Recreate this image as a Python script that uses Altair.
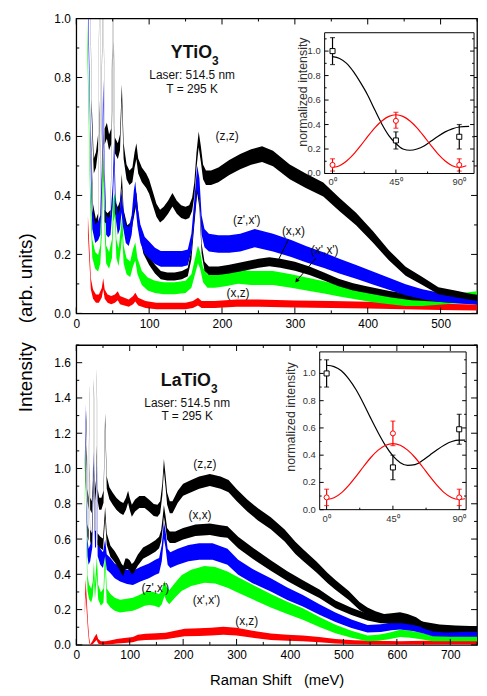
import altair as alt
import numpy as np
import pandas as pd

FONT = "Liberation Sans"
W, H1, H2 = 405, 298, 303

# ---------------- YTiO3 spectra: (Raman shift [meV], intensity) ----------------
yt_zz = [(18,1.4),(21,0.7),(24,0.5),(27,0.52),(30,0.58),(32,1.2),(34,0.6),(37,1.2),(39,0.6),(42,0.62),(45,0.58),(48,0.6),(50.5,1.2),(53,0.57),(57,0.55),(60,0.58),(62.5,0.75),(65,0.55),(69,0.48),(73,0.46),(77,0.47),(80,0.52),(82.5,0.55),(85,0.5),(90,0.47),(96,0.45),(100,0.43),(105,0.39),(110,0.35),(115,0.33),(120,0.34),(126,0.36),(132,0.385),(138,0.36),(144,0.345),(150,0.34),(155,0.345),(159,0.37),(162,0.42),(165,0.52),(168,0.59),(171,0.54),(174,0.48),(178,0.46),(185,0.46),(195,0.47),(210,0.495),(225,0.515),(240,0.53),(255,0.54),(270,0.525),(293,0.48),(315,0.45),(339,0.42),(361,0.37),(384,0.32),(407,0.26),(429,0.197),(452,0.143),(475,0.11),(497,0.077),(520,0.066),(543,0.055),(550,0.053)]
yt_xx = [(20,0.6),(23,0.35),(27,0.3),(30,0.32),(32,0.7),(34,0.32),(37,0.6),(39,0.33),(43,0.32),(47,0.33),(50.5,0.9),(53,0.36),(57,0.34),(60,0.36),(62.5,0.45),(65,0.33),(70,0.28),(75,0.29),(80,0.36),(82.5,0.39),(86,0.3),(92,0.22),(100,0.18),(108,0.15),(116,0.13),(125,0.125),(135,0.125),(145,0.13),(153,0.14),(158,0.2),(162,0.32),(166,0.43),(169,0.38),(172,0.22),(176,0.16),(182,0.145),(195,0.145),(210,0.15),(230,0.16),(250,0.17),(265,0.175),(280,0.17),(300,0.16),(320,0.145),(340,0.125),(360,0.105),(380,0.09),(400,0.08),(430,0.065),(460,0.055),(490,0.05),(520,0.045),(550,0.04)]
yt_zx = [(16,1.05),(18,0.8),(20,0.5),(22,0.32),(26,0.27),(30,0.28),(33,0.3),(35,0.45),(37,0.75),(39,0.45),(41,0.3),(44,0.29),(47,0.3),(50,0.4),(52,0.55),(54,0.36),(57,0.3),(60,0.32),(62,0.38),(64,0.33),(68,0.27),(72,0.26),(76,0.3),(79,0.38),(81,0.41),(84,0.33),(88,0.27),(94,0.23),(100,0.215),(108,0.195),(116,0.185),(125,0.185),(135,0.185),(145,0.185),(153,0.19),(158,0.24),(162,0.35),(166,0.46),(169,0.42),(172,0.3),(176,0.255),(182,0.24),(195,0.235),(210,0.235),(225,0.24),(245,0.255),(270,0.24),(295,0.22),(316,0.2),(340,0.18),(361,0.16),(385,0.14),(407,0.12),(430,0.1),(452,0.08),(475,0.065),(497,0.055),(520,0.05),(550,0.045)]
yt_xpxp = [(15,0.95),(17,0.7),(19,0.42),(22,0.22),(26,0.18),(30,0.17),(33,0.2),(35,0.3),(37,0.5),(39,0.3),(41,0.2),(45,0.18),(49,0.22),(51,0.35),(53,0.37),(55,0.22),(58,0.19),(61,0.25),(63,0.3),(65,0.2),(69,0.16),(74,0.15),(78,0.19),(81,0.21),(84,0.16),(90,0.12),(98,0.1),(108,0.09),(120,0.085),(135,0.085),(150,0.09),(158,0.11),(163,0.16),(167,0.2),(170,0.18),(174,0.13),(180,0.11),(190,0.11),(205,0.115),(222,0.125),(240,0.12),(270,0.12),(295,0.11),(316,0.1),(340,0.088),(361,0.077),(385,0.065),(407,0.055),(430,0.047),(452,0.04),(475,0.04),(497,0.045),(520,0.05),(550,0.058)]
yt_xz = [(16,0.3),(18,0.2),(20,0.1),(23,0.065),(27,0.05),(31,0.05),(35,0.07),(37,0.1),(39,0.065),(43,0.05),(48,0.045),(53,0.05),(57,0.06),(60,0.045),(66,0.04),(72,0.035),(78,0.045),(81,0.055),(85,0.04),(95,0.03),(110,0.025),(130,0.025),(150,0.025),(160,0.03),(167,0.04),(172,0.03),(190,0.03),(220,0.035),(250,0.035),(300,0.032),(350,0.03),(400,0.028),(450,0.025),(500,0.022),(550,0.02)]

# ---------------- LaTiO3 spectra ----------------
la_zz = [(17,1.0),(19,1.3),(21,0.85),(23,0.8),(24.5,1.45),(26,0.8),(29,0.78),(31,0.9),(33,1.48),(35,0.85),(37,0.9),(38.5,1.54),(40,0.85),(43,0.8),(47,0.8),(51,0.84),(54,1.28),(57,0.92),(62,0.86),(68,0.83),(75,0.8),(82,0.78),(88,0.77),(93,0.8),(97,0.84),(100,0.8),(104,0.76),(110,0.79),(118,0.81),(128,0.81),(136,0.79),(145,0.765),(152,0.76),(157,0.78),(161,0.88),(164,1.02),(167,0.93),(170,0.83),(175,0.78),(180,0.78),(190,0.84),(200,0.88),(215,0.9),(230,0.92),(250,0.935),(270,0.92),(285,0.9),(300,0.85),(320,0.79),(340,0.74),(364,0.69),(390,0.62),(410,0.55),(424,0.51),(450,0.44),(470,0.38),(485,0.34),(510,0.28),(530,0.22),(545,0.19),(560,0.17),(576,0.155),(590,0.16),(606,0.165),(620,0.155),(636,0.138),(650,0.11),(667,0.092),(690,0.085),(710,0.087),(730,0.09),(750,0.09)]
la_xx = [(17,0.9),(19,1.1),(21,0.65),(23,0.62),(24.5,1.0),(26,0.62),(29,0.6),(33,1.0),(35,0.62),(38.5,1.1),(40,0.6),(45,0.58),(50,0.57),(54,0.75),(57,0.6),(64,0.53),(72,0.5),(80,0.46),(85,0.43),(88,0.42),(92,0.46),(96,0.46),(100,0.45),(104,0.43),(108,0.44),(115,0.48),(125,0.52),(137,0.54),(148,0.56),(155,0.58),(159,0.62),(162,0.7),(164,0.76),(167,0.7),(170,0.63),(175,0.61),(185,0.61),(200,0.63),(223,0.65),(250,0.655),(270,0.645),(283,0.64),(303,0.58),(330,0.52),(364,0.45),(395,0.39),(424,0.34),(455,0.29),(485,0.23),(515,0.19),(545,0.157),(570,0.14),(590,0.14),(610,0.14),(630,0.13),(650,0.115),(680,0.1),(710,0.095),(750,0.09)]
la_zx = [(16,1.0),(17.5,1.32),(19,0.8),(21,0.55),(23,0.5),(26,0.52),(30,0.6),(33,1.05),(35,0.6),(37,0.6),(38.5,1.0),(40,0.55),(45,0.5),(50,0.48),(54,0.55),(57,0.47),(64,0.45),(72,0.42),(82,0.4),(95,0.385),(106,0.38),(120,0.4),(136,0.42),(148,0.44),(155,0.45),(160,0.52),(164,0.65),(167,0.6),(171,0.5),(176,0.48),(190,0.5),(210,0.52),(230,0.53),(255,0.53),(283,0.5),(303,0.44),(330,0.39),(364,0.34),(395,0.29),(424,0.25),(455,0.2),(485,0.157),(515,0.12),(545,0.092),(570,0.095),(590,0.105),(606,0.11),(630,0.1),(650,0.085),(667,0.068),(700,0.065),(730,0.065),(750,0.065)]
la_xpxp = [(16,0.8),(17.5,1.08),(19,0.6),(21,0.35),(24,0.3),(28,0.28),(31,0.32),(33,0.42),(35,0.3),(38.5,0.45),(41,0.3),(46,0.26),(51,0.28),(54,0.5),(57,0.28),(64,0.25),(72,0.23),(82,0.22),(95,0.225),(106,0.23),(118,0.245),(128,0.26),(137,0.265),(146,0.26),(155,0.25),(160,0.27),(165,0.32),(169,0.29),(174,0.27),(185,0.31),(197,0.35),(215,0.38),(240,0.4),(260,0.395),(283,0.37),(303,0.34),(330,0.3),(364,0.25),(395,0.21),(424,0.175),(455,0.13),(485,0.09),(515,0.06),(545,0.037),(565,0.04),(585,0.05),(606,0.065),(625,0.06),(645,0.05),(667,0.037),(700,0.037),(750,0.037)]
la_xz = [(16,0.2),(17.5,0.33),(20,0.2),(22,0.1),(24,0.03),(26,0.0),(30,0.01),(34,0.03),(38,0.045),(41,0.02),(46,0.01),(55,0.01),(65,0.015),(76,0.02),(90,0.025),(106,0.03),(115,0.04),(130,0.045),(150,0.048),(167,0.05),(185,0.06),(203,0.07),(230,0.072),(252,0.075),(275,0.08),(300,0.075),(330,0.06),(364,0.046),(395,0.04),(424,0.037),(455,0.03),(485,0.02),(520,0.015),(560,0.012),(606,0.01),(650,0.012),(700,0.013),(750,0.013)]

# ---------------- insets: polarization angle (deg) vs normalized intensity ----------------
angles = [0, 45, 90]
yt_sq = [1.0, 0.27, 0.30]; yt_sq_lo = [0.89, 0.20, 0.20]; yt_sq_hi = [1.11, 0.34, 0.40]
yt_ci = [0.07, 0.43, 0.07]; yt_ci_lo = [0.02, 0.37, 0.02]; yt_ci_hi = [0.12, 0.50, 0.12]
yt_fit_k = [(0,0.955),(5,0.94),(10,0.9),(15,0.83),(20,0.74),(25,0.64),(30,0.52),(35,0.405),(40,0.31),(45,0.245),(50,0.2),(55,0.19),(60,0.2),(65,0.225),(70,0.265),(75,0.305),(80,0.34),(85,0.365),(90,0.38),(97,0.385)]
yt_fit_r = [(0,0.05),(5,0.063),(10,0.102),(15,0.158),(20,0.228),(25,0.303),(30,0.373),(35,0.429),(40,0.467),(45,0.48),(50,0.467),(55,0.429),(60,0.373),(65,0.303),(70,0.228),(75,0.158),(80,0.102),(85,0.063),(90,0.05),(95,0.063)]
la_sq = [1.0, 0.31, 0.59]; la_sq_lo = [0.90, 0.22, 0.48]; la_sq_hi = [1.10, 0.40, 0.70]
la_ci = [0.09, 0.56, 0.09]; la_ci_lo = [0.03, 0.47, 0.03]; la_ci_hi = [0.15, 0.65, 0.15]
la_fit_k = [(0,1.06),(5,1.05),(10,1.02),(15,0.96),(20,0.88),(25,0.78),(30,0.67),(35,0.565),(40,0.47),(45,0.395),(50,0.345),(55,0.325),(60,0.33),(65,0.36),(70,0.4),(75,0.44),(80,0.475),(85,0.5),(90,0.51),(94,0.51)]
la_fit_r = [(0,0.075),(5,0.087),(10,0.123),(15,0.178),(20,0.244),(25,0.315),(30,0.383),(35,0.437),(40,0.473),(45,0.485),(50,0.473),(55,0.437),(60,0.383),(65,0.315),(70,0.244),(75,0.178),(80,0.123),(85,0.087),(90,0.075),(94,0.08)]
inset_ylabels = [0.0, 0.2, 0.4, 0.6, 0.8, 1.0]
inset_yminor = [0.1, 0.3, 0.5, 0.7, 0.9, 1.1]
inset_xlabels = ["0\u2070", "45\u2070", "90\u2070"]
inset_xminor = [22.5, 67.5]

BLACK, BLUE, GREEN, RED = "#000000", "#0000ff", "#00ff00", "#ff0000"


def band_df(pairs, k):
    # noise band drawn around the read-off centre line; width grows slowly with intensity
    d = pd.DataFrame(pairs, columns=["x", "v"])
    h = k * np.sqrt(np.clip(d["v"].to_numpy(), 0, 0.55)) + 0.003
    d["lo"] = d["v"] - h
    d["hi"] = d["v"] + h
    return d


def main_group(series, xdom, ydom, H, xvals, xminor, yvals, yminor, xtitle, ytitle, ytitleY, notes, arrows):
    sx = alt.Scale(domain=xdom, nice=False, zero=False)
    sy = alt.Scale(domain=ydom, nice=False, zero=False)
    common = dict(labelFont=FONT, labelFontSize=12, labelColor="black", ticks=False,
                  domain=False, grid=False, labelFlush=False)
    if xtitle:
        axx = alt.Axis(values=xvals, labelPadding=5, title=xtitle, titleFont=FONT, titleFontSize=15,
                       titleFontWeight="normal", titleColor="black", titlePadding=12, **common)
    else:
        axx = alt.Axis(values=xvals, labelPadding=5, title=None, **common)
    axy = alt.Axis(values=yvals, format=".1f", labelPadding=6, title=ytitle, titleFont=FONT,
                   titleFontSize=19, titleFontWeight="normal", titleColor="black", titleAngle=270,
                   titleX=-51, titleY=ytitleY, titleAlign="center", titleBaseline="middle", **common)
    X = lambda f: alt.X(f, scale=sx, axis=axx)
    Y = lambda f: alt.Y(f, scale=sy, axis=axy)
    layers = []
    for pairs, k, col in series:
        layers.append(alt.Chart(band_df(pairs, k)).mark_area(color=col, clip=True, opacity=1)
                      .encode(x=X("x:Q"), y=Y("lo:Q"), y2="hi:Q"))
    # inward ticks on all four sides
    for vals, ln in ((xvals, 6), (xminor, 3)):
        d = pd.DataFrame({"x": vals})
        layers.append(alt.Chart(d).mark_rule(color="black", strokeWidth=1)
                      .encode(x=X("x:Q"), y=alt.value(H), y2=alt.value(H - ln)))
        layers.append(alt.Chart(d).mark_rule(color="black", strokeWidth=1)
                      .encode(x=X("x:Q"), y=alt.value(0), y2=alt.value(ln)))
    for vals, ln in ((yvals, 6), (yminor, 3)):
        d = pd.DataFrame({"y": vals})
        layers.append(alt.Chart(d).mark_rule(color="black", strokeWidth=1)
                      .encode(y=Y("y:Q"), x=alt.value(0), x2=alt.value(ln)))
        layers.append(alt.Chart(d).mark_rule(color="black", strokeWidth=1)
                      .encode(y=Y("y:Q"), x=alt.value(W), x2=alt.value(W - ln)))
    # annotations
    for (x, y, t, size, weight, dy, align) in notes:
        d = pd.DataFrame({"x": [x], "y": [y], "t": [t]})
        layers.append(alt.Chart(d).mark_text(font=FONT, fontSize=size, fontWeight=weight, dy=dy,
                                             align=align, baseline="middle", color="#111111")
                      .encode(x=X("x:Q"), y=Y("y:Q"), text="t:N"))
    if arrows:
        d = pd.DataFrame(arrows, columns=["x", "y", "x2", "y2", "ang"])
        layers.append(alt.Chart(d).mark_rule(color="black", strokeWidth=1)
                      .encode(x=X("x:Q"), y=Y("y:Q"), x2="x2:Q", y2="y2:Q"))
        layers.append(alt.Chart(d).mark_point(shape="triangle", filled=True, color="black", size=22, opacity=1)
                      .encode(x=X("x2:Q"), y=Y("y2:Q"), angle=alt.Angle("ang:Q", scale=None)))
    return alt.layer(*layers)


def inset_group(box, xdom, ydom, fit_k, fit_r, sq, sq_lo, sq_hi, ci, ci_lo, ci_hi, title_dx, title_v):
    x0, x1, y0, y1 = box
    sx = alt.Scale(domain=xdom, range=[x0, x1], nice=False, zero=False)
    sy = alt.Scale(domain=ydom, range=[y1, y0], nice=False, zero=False)
    X = lambda f: alt.X(f, scale=sx, axis=None)
    Y = lambda f: alt.Y(f, scale=sy, axis=None)
    L = []
    fr = pd.DataFrame({"a": [xdom[0]], "b": [xdom[1]], "c": [ydom[0]], "d": [ydom[1]]})
    L.append(alt.Chart(fr).mark_rect(fill="white", stroke="black", strokeWidth=1)
             .encode(x=X("a:Q"), x2="b:Q", y=Y("c:Q"), y2="d:Q"))
    for fit, col in ((fit_k, BLACK), (fit_r, RED)):
        L.append(alt.Chart(pd.DataFrame(fit, columns=["a", "v"]))
                 .mark_line(color=col, strokeWidth=1.2, interpolate="monotone")
                 .encode(x=X("a:Q"), y=Y("v:Q")))
    for v, lo, hi, col, shape in ((ci, ci_lo, ci_hi, RED, "circle"), (sq, sq_lo, sq_hi, BLACK, "square")):
        d = pd.DataFrame({"a": angles, "v": v, "lo": lo, "hi": hi})
        L.append(alt.Chart(d).mark_rule(color=col, strokeWidth=1.2)
                 .encode(x=X("a:Q"), y=Y("lo:Q"), y2="hi:Q"))
        for f in ("lo:Q", "hi:Q"):
            L.append(alt.Chart(d).mark_tick(orient="horizontal", size=5, thickness=1.2, color=col)
                     .encode(x=X("a:Q"), y=Y(f)))
        L.append(alt.Chart(d).mark_point(shape=shape, filled=True, fill="white", stroke=col,
                                          strokeWidth=1, size=26, opacity=1)
                 .encode(x=X("a:Q"), y=Y("v:Q")))
    # inset ticks
    for vals, ln in ((inset_ylabels, 4), (inset_yminor, 2)):
        d = pd.DataFrame({"v": vals})
        L.append(alt.Chart(d).mark_rule(color="black", strokeWidth=1)
                 .encode(y=Y("v:Q"), x=alt.value(x0), x2=alt.value(x0 + ln)))
        L.append(alt.Chart(d).mark_rule(color="black", strokeWidth=1)
                 .encode(y=Y("v:Q"), x=alt.value(x1), x2=alt.value(x1 - ln)))
    for vals, ln in ((angles, 4), (inset_xminor, 2)):
        d = pd.DataFrame({"a": vals})
        L.append(alt.Chart(d).mark_rule(color="black", strokeWidth=1)
                 .encode(x=X("a:Q"), y=alt.value(y1), y2=alt.value(y1 - ln)))
    # inset labels
    d = pd.DataFrame({"v": inset_ylabels, "t": ["%.1f" % v for v in inset_ylabels]})
    L.append(alt.Chart(d).mark_text(font=FONT, fontSize=9.5, align="right", baseline="middle",
                                    dx=-4, color="#333333")
             .encode(y=Y("v:Q"), x=alt.value(x0), text="t:N"))
    d = pd.DataFrame({"a": angles, "t": inset_xlabels})
    L.append(alt.Chart(d).mark_text(font=FONT, fontSize=9.5, align="center", baseline="top",
                                    dy=4, color="#333333")
             .encode(x=X("a:Q"), y=alt.value(y1), text="t:N"))
    d = pd.DataFrame({"v": [title_v], "t": ["normalized intensity"]})
    L.append(alt.Chart(d).mark_text(font=FONT, fontSize=12.5, angle=270, align="center",
                                    baseline="middle", color="#333333")
             .encode(y=Y("v:Q"), x=alt.value(x0 - title_dx), text="t:N"))
    return alt.layer(*L)


# ---------------- top panel: YTiO3 ----------------
top_series = [(yt_xz, 0.05, RED), (yt_xpxp, 0.06, GREEN), (yt_xx, 0.03, BLACK),
              (yt_zx, 0.055, BLUE), (yt_zz, 0.032, BLACK)]
top_notes = [(186.4, 0.882, "YTiO", 18, "bold", 0, "right"),
             (186.4, 0.882, "3", 12, "bold", 8, "left"),
             (159, 0.809, "Laser: 514.5 nm", 12, "normal", 0, "center"),
             (159, 0.760, "T = 295 K", 12, "normal", 0, "center"),
             (207, 0.600, "(z,z)", 12, "normal", 0, "center"),
             (234, 0.316, "(z',x')", 12, "normal", 0, "center"),
             (298, 0.280, "(x,x)", 12, "normal", 0, "center"),
             (341, 0.216, "(x',x')", 12, "normal", 0, "center"),
             (222, 0.069, "(x,z)", 12, "normal", 0, "center")]
top_arrows = [(291, 0.25, 276, 0.174, 205), (329, 0.1875, 303, 0.112, 219)]

top_main = main_group(top_series, [0, 550], [0, 1.0], H1,
                      [0, 100, 200, 300, 400, 500], [50, 150, 250, 350, 450, 550],
                      [0.0, 0.2, 0.4, 0.6, 0.8, 1.0], [0.1, 0.3, 0.5, 0.7, 0.9],
                      None, "(arb. units)", 262, top_notes, top_arrows)
top_inset = inset_group((251, 402, 14.7 * H1 / 305, 160.3 * H1 / 305), [-5.6, 100.5], [0, 1.15],
                        yt_fit_k, yt_fit_r, yt_sq, yt_sq_lo, yt_sq_hi, yt_ci, yt_ci_lo, yt_ci_hi,
                        22, 0.665)
top = alt.layer(top_main, top_inset).resolve_scale(x="independent", y="independent").properties(width=W, height=H1)

# ---------------- bottom panel: LaTiO3 ----------------
bot_series = [(la_xz, 0.07, RED), (la_xpxp, 0.07, GREEN), (la_zx, 0.06, BLUE),
              (la_xx, 0.04, BLACK), (la_zz, 0.042, BLACK)]
bot_notes = [(252, 1.495, "LaTiO", 18, "bold", 0, "right"),
             (252, 1.495, "3", 12, "bold", 8, "left"),
             (207.5, 1.373, "Laser: 514.5 nm", 12, "normal", 0, "center"),
             (207.5, 1.300, "T = 295 K", 12, "normal", 0, "center"),
             (240.7, 1.023, "(z,z)", 12, "normal", 0, "center"),
             (231.6, 0.736, "(x,x)", 12, "normal", 0, "center"),
             (148, 0.325, "(z',x')", 12, "normal", 0, "center"),
             (243.7, 0.256, "(x',x')", 12, "normal", 0, "center"),
             (319, 0.137, "(x,z)", 12, "normal", 0, "center")]

bot_main = main_group(bot_series, [0, 750], [0, 1.7], H2,
                      [0, 100, 200, 300, 400, 500, 600, 700], [50, 150, 250, 350, 450, 550, 650, 750],
                      [0.0, 0.2, 0.4, 0.6, 0.8, 1.0, 1.2, 1.4, 1.6], [0.1, 0.3, 0.5, 0.7, 0.9, 1.1, 1.3, 1.5, 1.7],
                      "Raman Shift\u00a0\u00a0\u00a0(meV)", "Intensity", 32, bot_notes, [])
bot_inset = inset_group((246, 394, 7 * H2 / 306, 168 * H2 / 306), [-4.7, 94.7], [0, 1.158],
                        la_fit_k, la_fit_r, la_sq, la_sq_lo, la_sq_hi, la_ci, la_ci_lo, la_ci_hi,
                        29, 0.68)
bottom = alt.layer(bot_main, bot_inset).resolve_scale(x="independent", y="independent").properties(width=W, height=H2)

chart = (alt.vconcat(top, bottom, spacing=10)
         .properties(padding={"left": 8, "top": 0, "right": 0, "bottom": 0})
         .configure_view(stroke="black", strokeWidth=1.3))

chart.save("out.html", embed_options={"renderer": "svg", "actions": False})
